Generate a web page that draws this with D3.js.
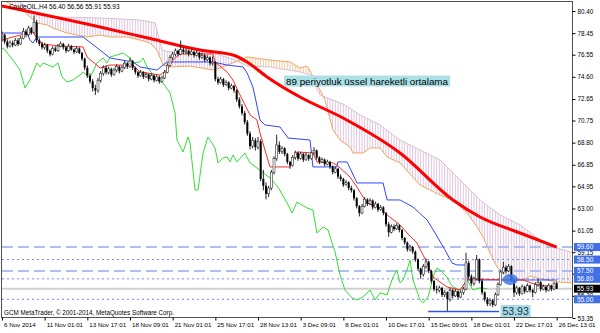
<!DOCTYPE html>
<html><head><meta charset="utf-8">
<script src="https://cdn.jsdelivr.net/npm/d3@7"></script>
<style>
html,body{margin:0;padding:0;background:#fff;}
svg{display:block;font-family:"Liberation Sans",Arial,sans-serif;}
</style></head><body>
<svg id="c" width="600" height="333"></svg>
<script>
// ---------- DATA ----------
const symbol = "CrudeOIL,H4";
const lastOHLC = ["56.40","56.56","55.91","55.93"];
const opens = [78.1,78.3,77.7,77.3,77.6,77.4,77.8,77.5,78.0,78.6,
78.3,78.9,78.5,79.4,77.8,77.5,77.2,77.4,76.9,76.6,
77.1,76.9,77.3,77.5,77.2,76.9,77.3,77.0,76.8,77.1,
76.7,76.2,75.4,74.7,74.2,73.6,73.4,74.3,74.9,75.4,
75.0,75.3,74.8,75.2,75.5,75.1,75.4,75.8,75.5,76.0,
75.4,75.0,74.7,75.0,74.6,74.8,74.4,74.7,74.3,74.6,
74.2,74.5,75.0,75.6,76.3,76.6,76.9,76.6,77.0,76.8,
76.9,76.6,76.8,76.5,76.7,76.3,76.5,76.1,76.3,75.8,
75.9,74.4,74.1,74.4,73.9,74.1,73.6,73.8,73.4,72.6,
72.0,71.4,70.6,69.6,68.5,69.0,68.4,68.9,65.6,65.0,
64.3,64.8,66.2,67.4,68.6,68.0,68.3,67.8,67.1,66.8,
67.5,67.9,67.4,67.8,67.3,67.7,67.4,67.9,68.1,67.5,
67.1,67.3,66.9,67.1,66.7,66.2,66.5,65.8,65.6,65.1,
65.3,64.8,64.6,63.9,63.2,62.6,63.2,63.8,63.4,63.7,
63.1,63.4,62.9,63.1,62.6,61.6,60.9,61.4,61.2,61.5,
61.1,60.4,60.0,59.4,59.6,59.2,58.5,57.7,57.2,57.9,
58.3,57.5,56.6,55.9,55.8,56.0,55.4,55.6,55.0,55.8,
55.3,55.7,55.2,55.6,55.9,58.2,57.0,56.4,56.8,58.5,
56.6,55.6,55.0,54.6,54.9,54.5,55.4,56.3,57.4,57.8,
57.5,57.9,56.7,55.6,56.0,55.5,56.1,55.7,56.2,55.8,
55.6,56.3,56.5,55.9,56.1,55.8,56.2,55.9,56.40];
const highs = [78.6,78.4,77.9,77.8,77.8,78.0,78.0,78.2,78.9,78.8,
79.1,79.0,80.0,79.6,78.0,77.7,77.6,77.5,77.0,77.3,
77.3,77.5,77.7,77.6,77.3,77.5,77.4,77.1,77.3,77.2,
76.8,76.3,75.6,74.9,74.4,73.9,74.5,75.1,75.6,75.6,
75.5,75.4,75.4,75.7,75.6,75.6,76.0,75.9,76.3,76.1,
75.5,75.1,75.2,75.1,75.0,74.9,74.9,74.8,74.8,74.7,
74.7,75.2,75.8,76.5,76.8,77.1,77.0,77.8,77.2,77.1,
77.0,77.0,76.9,76.9,76.8,76.7,76.6,76.5,76.4,76.4,
76.0,74.6,74.6,74.5,74.3,74.2,74.0,73.9,73.5,72.8,
72.2,71.6,70.8,69.8,69.3,69.2,69.3,69.1,66.4,65.3,
65.0,66.4,67.6,69.5,68.9,68.5,68.4,67.9,67.2,67.7,
68.1,68.0,68.0,67.9,67.9,67.8,68.0,68.4,68.2,67.6,
67.5,67.4,67.3,67.2,66.8,66.7,66.6,66.0,65.7,65.5,
65.4,65.0,64.7,64.0,63.3,63.4,64.0,63.9,63.9,63.8,
63.6,63.5,63.3,63.2,62.7,61.8,61.6,61.6,61.7,61.6,
61.2,60.5,60.1,59.8,59.7,59.3,58.6,57.8,58.1,58.6,
58.4,57.6,56.7,56.2,56.2,56.1,55.8,55.7,56.0,55.9,
55.9,55.8,55.8,56.1,59.1,58.4,57.2,57.0,58.9,58.6,
56.8,55.7,55.2,55.1,55.0,55.6,56.5,57.6,58.3,58.0,
58.1,58.0,56.8,56.2,56.1,56.3,56.2,56.4,56.3,55.9,
56.5,56.8,56.6,56.3,56.2,56.4,56.3,56.5,56.56];
const lows = [77.7,77.5,77.1,77.2,77.2,77.3,77.3,77.4,77.9,78.1,
78.2,78.3,78.4,77.6,77.3,77.0,77.0,76.7,76.4,76.5,
76.8,76.8,77.2,77.0,76.7,76.8,76.9,76.6,76.7,76.6,
76.0,75.2,74.5,74.0,73.3,73.0,73.2,74.1,74.7,74.8,
74.8,74.6,74.7,75.0,74.9,75.0,75.3,75.3,75.4,75.2,
74.8,74.5,74.6,74.4,74.5,74.2,74.3,74.1,74.2,74.0,
74.1,74.4,74.9,75.5,76.1,76.4,76.4,76.5,76.6,76.6,
76.4,76.5,76.3,76.4,76.1,76.2,75.9,76.0,75.6,75.6,
74.2,73.9,74.0,73.7,73.8,73.4,73.5,73.2,72.4,71.8,
71.2,70.4,69.4,68.2,68.3,68.1,68.2,65.4,64.6,63.8,
64.0,64.6,66.0,67.2,67.8,67.8,67.6,66.9,66.5,66.7,
67.3,67.2,67.3,67.1,67.2,67.2,67.3,67.7,67.3,66.9,
67.0,66.7,66.8,66.5,66.0,66.1,65.6,65.4,64.9,65.0,
64.6,64.4,63.7,63.0,62.3,62.5,63.1,63.2,63.3,62.9,
63.0,62.7,62.8,62.4,61.4,60.5,60.8,61.0,61.1,60.9,
60.2,59.8,59.2,59.2,59.0,58.3,57.5,56.8,57.0,57.7,
57.3,56.4,55.7,55.5,55.6,55.2,55.2,53.93,54.8,55.1,
55.2,55.0,55.1,55.4,55.8,56.8,56.2,56.2,56.7,56.4,
55.4,54.8,54.4,54.4,54.3,54.4,55.3,56.2,57.2,57.3,
57.4,56.5,55.2,55.4,55.3,55.4,55.5,55.6,55.6,55.2,
55.5,56.1,55.7,55.8,55.6,55.7,55.7,55.8,55.91];
const closes = [78.3,77.7,77.3,77.6,77.4,77.8,77.5,78.0,78.6,78.3,
78.9,78.5,79.4,77.8,77.5,77.2,77.4,76.9,76.6,77.1,
76.9,77.3,77.5,77.2,76.9,77.3,77.0,76.8,77.1,76.7,
76.2,75.4,74.7,74.2,73.6,73.4,74.3,74.9,75.4,75.0,
75.3,74.8,75.2,75.5,75.1,75.4,75.8,75.5,76.0,75.4,
75.0,74.7,75.0,74.6,74.8,74.4,74.7,74.3,74.6,74.2,
74.5,75.0,75.6,76.3,76.6,76.9,76.6,77.0,76.8,76.9,
76.6,76.8,76.5,76.7,76.3,76.5,76.1,76.3,75.8,75.9,
74.4,74.1,74.4,73.9,74.1,73.6,73.8,73.4,72.6,72.0,
71.4,70.6,69.6,68.5,69.0,68.4,68.9,65.6,65.0,64.3,
64.8,66.2,67.4,68.6,68.0,68.3,67.8,67.1,66.8,67.5,
67.9,67.4,67.8,67.3,67.7,67.4,67.9,68.1,67.5,67.1,
67.3,66.9,67.1,66.7,66.2,66.5,65.8,65.6,65.1,65.3,
64.8,64.6,63.9,63.2,62.6,63.2,63.8,63.4,63.7,63.1,
63.4,62.9,63.1,62.6,61.6,60.9,61.4,61.2,61.5,61.1,
60.4,60.0,59.4,59.6,59.2,58.5,57.7,57.2,57.9,58.3,
57.5,56.6,55.9,55.8,56.0,55.4,55.6,55.0,55.8,55.3,
55.7,55.2,55.6,55.9,58.2,57.0,56.4,56.8,58.5,56.6,
55.6,55.0,54.6,54.9,54.5,55.4,56.3,57.4,57.8,57.5,
57.9,56.7,55.6,56.0,55.5,56.1,55.7,56.2,55.8,55.6,
56.3,56.5,55.9,56.1,55.8,56.2,55.9,56.40,55.93];

// indicator lines: [bar index, price]
const ema89 = [[0,80.84],[36.75,78.99],[55.5,77.97],[74.25,76.96],[86.6,76.52],[91.9,75.91],[99.4,74.59],[111.75,72.82],[127.9,70.97],[149.25,67.89],[169.1,63.75],[179.25,62.25],[194.25,60.84],[208,59.60]];
const tenkan = [[0,77.84],[4.1,78.11],[11.6,78.55],[13.5,77.84],[15.4,77.49],[21.75,77.32],[30.4,77.23],[31.9,76.35],[36.75,75.38],[40.5,75.64],[49.1,75.64],[51.75,75.03],[59.25,74.76],[61.9,75.20],[64.1,76.08],[66.75,76.61],[79.1,76.61],[79.9,75.91],[84.4,75.03],[86.6,74.32],[89.25,73.0],[93,71.24],[95.6,70.80],[96.75,69.65],[98.6,68.15],[100.5,66.66],[108,66.66],[110.6,67.98],[116.6,67.89],[118.1,67.10],[124.1,67.01],[125.6,66.83],[130.5,65.77],[133.1,64.89],[135.4,64.01],[136.9,63.48],[141.75,63.04],[144.4,62.43],[149.25,61.55],[151.9,60.84],[155.6,59.96],[159.4,58.20],[161.6,56.96],[166.9,56.08],[171.75,55.82],[174.4,56.70],[176.6,56.79],[189.4,56.70],[195.4,56.70],[200.6,56.26],[208,56.08]];
const kijun = [[0,78.46],[9.4,78.46],[10.5,77.84],[11.6,77.58],[13.1,78.11],[30.4,78.11],[36.75,76.96],[40.5,76.26],[49.1,75.91],[51.75,75.47],[58.1,75.20],[61.9,75.91],[79.1,75.91],[84.4,75.64],[90.4,75.47],[91.9,74.94],[94.1,73.70],[96.75,70.80],[98.6,70.36],[104.25,70.18],[107.25,69.21],[115.5,69.03],[116.6,66.66],[125.6,66.66],[125.9,67.10],[129.4,67.10],[133.1,65.25],[142.9,65.25],[144.4,63.75],[149.25,63.75],[154.1,63.13],[159.4,61.99],[162.4,60.84],[166.1,59.35],[168.75,58.20],[170.6,58.02],[174.4,58.02],[174.75,56.70],[208,56.70]];
const chikou = [[0,77.14],[1.1,76.96],[4.1,76.08],[6.75,75.20],[8.6,73.62],[10.5,74.32],[11.6,74.94],[13.1,75.82],[14.25,75.47],[15.4,75.82],[19.1,75.47],[21,75.82],[22.5,74.59],[24.4,74.14],[26.6,74.32],[29.25,74.76],[30.4,75.03],[33,74.50],[35.6,75.82],[37.9,76.26],[39.4,75.82],[40.5,76.35],[43.1,76.52],[45.4,76.70],[48,76.26],[49.1,75.82],[51.75,75.91],[52.9,76.26],[54.4,75.47],[58.1,74.32],[60.4,74.06],[63,73.18],[64.9,71.41],[65.6,69.03],[67.9,67.98],[69.75,69.30],[70.5,68.77],[72.4,64.63],[73.5,64.63],[75.4,67.89],[77.25,69.30],[79.9,68.33],[81,67.01],[82.9,67.45],[84.4,67.54],[85.5,67.10],[86.6,67.71],[88.1,67.10],[91.1,67.89],[93,67.01],[95.6,66.57],[97.5,66.21],[100.5,65.69],[103.5,64.89],[106.9,63.48],[108.75,62.60],[110.6,63.57],[114.4,63.04],[116.6,62.87],[118.1,60.84],[120.4,61.37],[122.25,61.11],[123.75,59.96],[124.9,59.17],[126.75,57.14],[128.6,55.82],[131.25,55.12],[133.1,54.94],[135.4,55.21],[138,55.82],[139.9,54.94],[141.75,55.56],[144.4,55.38],[146.6,56.96],[148.1,57.58],[149.25,56.44],[150.4,56.70],[152.25,57.85],[153,58.46],[154.1,56.70],[156.75,54.94],[157.9,54.68],[159.75,55.21],[160.5,55.82],[161.6,56.96],[163.1,57.76],[164.25,57.58],[166.9,56.96],[168,56.44],[169.1,56.08],[171.75,55.82],[174.4,56.70],[176.6,55.82],[179.25,56.00],[182,55.93]];
const senkouA = [[0,81.37],[6.75,80.66],[13.1,79.34],[16.9,79.17],[19.1,78.90],[24.4,78.46],[31.9,78.11],[36.75,78.29],[40.5,78.11],[46.9,78.11],[51.75,77.84],[55.5,77.58],[58.1,76.96],[60.4,75.64],[63,75.47],[70.5,75.55],[79.1,75.20],[81.75,75.38],[87.4,75.91],[91.9,76.35],[100.5,76.08],[108,75.91],[111.75,75.38],[114.4,75.55],[117.4,74.32],[121.1,72.56],[124.1,69.92],[126.75,69.03],[130.5,68.42],[131.6,67.89],[135.4,67.89],[138,68.33],[141.75,68.33],[144.4,67.54],[149.25,67.01],[156.75,65.07],[164.25,64.19],[169.1,63.75],[174.4,62.60],[178.1,61.37],[180.4,60.49],[183,59.08],[185.6,57.85],[187.9,57.32],[191.6,56.88],[195.4,56.70],[198,57.05],[200.6,56.88],[208,56.53],[214.5,56.44],[222,56.44]];
const senkouB = [[0,82.07],[6.75,81.19],[13.1,80.05],[21.75,79.87],[36.75,79.78],[51.75,79.61],[57.4,79.34],[60,76.96],[63,76.79],[79.1,76.70],[87.4,76.08],[91.9,75.55],[100.5,75.47],[111.75,75.03],[115.5,74.76],[119.25,73.00],[124.1,72.56],[128.6,72.12],[134.25,71.24],[141.75,70.36],[149.25,69.03],[156.75,68.15],[164.25,67.27],[171.75,65.51],[179.25,63.75],[186.75,62.43],[194.25,61.55],[201.75,60.22],[208,59.52],[214.5,59.08],[222,59.0]];

// axis ticks
const priceTicks = [80.40,78.45,76.55,74.60,72.65,70.75,68.80,66.85,64.95,63.00,61.05,59.15,57.25,55.30,53.35];
const hiddenTicks = [57.25];
const dateBars = [0,16,32,48,64,80,96,112,128,144,160,176,192,208];
const dateLabels = ["6 Nov 2014","11 Nov 01:01","13 Nov 17:01","18 Nov 09:01","21 Nov 01:01","25 Nov 17:01","28 Nov 13:01","3 Dec 09:01","8 Dec 01:01","10 Dec 17:01","15 Dec 09:01","18 Dec 01:01","22 Dec 17:01","26 Dec 13:01"];

// horizontal levels
const dashedLevels = [59.60,57.50];
const dottedLevels = [58.50,56.80,55.00];
const bidPrice = 55.93;
const blueLabels = [59.60,58.50,57.50,56.80,55.00];
const lowPrice = 53.93;
const lowLineBars = [159.8,186.4];
const highlight = [190.6,56.75];
const emaNote = "89 periyotluk üssel hareketli ortalama";
const copyright = "GCM MetaTrader, © 2001-2014, MetaQuotes Software Corp.";

// ---------- DRAW ----------
const svg = d3.select("#c");
const x = d3.scaleLinear().domain([0,208]).range([2,556.7]);
const y = d3.scaleLinear().domain([53.35,80.40]).range([318,11]);
const PL=2, PR=572, PT=2, PB=317;
const step = x(1)-x(0);
const fmt = d3.format(".2f");

svg.append("rect").attr("width",600).attr("height",333).attr("fill","#fff");
const defs = svg.append("defs");
defs.append("clipPath").attr("id","plot").append("rect").attr("x",PL).attr("y",PT).attr("width",PR-PL).attr("height",PB-PT);
function hatch(id,color){
  const p = defs.append("pattern").attr("id",id).attr("patternUnits","userSpaceOnUse")
    .attr("width",step).attr("height",20).attr("x",x(0)-0.5);
  p.append("rect").attr("x",0).attr("y",0).attr("width",1).attr("height",20).attr("fill",color);
}
hatch("hB","#dcc3dc");
hatch("hA","#f6c8a0");
const aboveA = d3.area().x(d=>x(d[0])).y0(-100).y1(d=>y(d[1]));
const belowA = d3.area().x(d=>x(d[0])).y0(500).y1(d=>y(d[1]));
defs.append("clipPath").attr("id","cA").append("path").attr("d",aboveA(senkouA));
defs.append("clipPath").attr("id","cBel").append("path").attr("d",belowA(senkouA));

const line = d3.line().x(d=>x(d[0])).y(d=>y(d[1]));
const plot = svg.append("g").attr("clip-path","url(#plot)");

// cloud
const poly = senkouA.concat(senkouB.slice().reverse());
const polyPath = line(poly)+"Z";
plot.append("g").attr("clip-path","url(#cA)").append("path").attr("d",polyPath).attr("fill","url(#hB)").attr("fill-rule","evenodd");
plot.append("g").attr("clip-path","url(#cBel)").append("path").attr("d",polyPath).attr("fill","url(#hA)").attr("fill-rule","evenodd");
plot.append("path").attr("d",line(senkouB)).attr("fill","none").attr("stroke","#d8bfd8").attr("stroke-width",1);
plot.append("path").attr("d",line(senkouA)).attr("fill","none").attr("stroke","#f4a460").attr("stroke-width",1);

// levels
plot.selectAll(".lvd").data(dashedLevels).join("line").attr("x1",PL).attr("x2",PR)
  .attr("y1",d=>y(d)).attr("y2",d=>y(d)).attr("stroke","#afc0f0").attr("stroke-width",2).attr("stroke-dasharray","11,5");
plot.selectAll(".lvo").data(dottedLevels).join("line").attr("x1",PL).attr("x2",PR)
  .attr("y1",d=>y(d)).attr("y2",d=>y(d)).attr("stroke","#6d8ef0").attr("stroke-width",1).attr("stroke-dasharray","2,3");
plot.append("line").attr("x1",PL).attr("x2",PR).attr("y1",y(bidPrice)).attr("y2",y(bidPrice)).attr("stroke","#d0d0d0").attr("stroke-width",2);

// header text
svg.append("text").attr("x",9).attr("y",9).attr("font-size",6.5).attr("fill","#000")
  .text(symbol+"  "+lastOHLC.join(" "));

// EMA
plot.append("path").attr("d",d3.line().x(d=>x(d[0])).y(d=>y(d[1])).curve(d3.curveMonotoneX)(ema89))
  .attr("fill","none").attr("stroke","#ff0000").attr("stroke-width",3);
// ichimoku lines
plot.append("path").attr("d",line(chikou)).attr("fill","none").attr("stroke","#33e033").attr("stroke-width",1);
plot.append("path").attr("d",line(kijun)).attr("fill","none").attr("stroke","#3344ff").attr("stroke-width",1);
plot.append("path").attr("d",line(tenkan)).attr("fill","none").attr("stroke","#ff2a2a").attr("stroke-width",1);

// candles
const bars = d3.range(opens.length);
const cg = plot.append("g");
cg.selectAll(".w").data(bars).join("line")
  .attr("x1",i=>x(i)).attr("x2",i=>x(i)).attr("y1",i=>y(highs[i])).attr("y2",i=>y(lows[i]))
  .attr("stroke","#222").attr("stroke-width",1);
cg.selectAll(".b").data(bars).join("rect")
  .attr("x",i=>x(i)-1).attr("width",2)
  .attr("y",i=>y(Math.max(opens[i],closes[i])))
  .attr("height",i=>Math.max(0.8,Math.abs(y(opens[i])-y(closes[i]))))
  .attr("fill",i=>closes[i]>=opens[i]?"#fff":"#000")
  .attr("stroke",i=>closes[i]>=opens[i]?"#333":"none").attr("stroke-width",0.6);

// annotations
plot.append("line").attr("x1",x(lowLineBars[0])).attr("x2",x(lowLineBars[1]))
  .attr("y1",y(lowPrice)).attr("y2",y(lowPrice)).attr("stroke","#2a5bd7").attr("stroke-width",1.5);
plot.append("ellipse").attr("cx",x(highlight[0])).attr("cy",y(highlight[1])).attr("rx",7.5).attr("ry",5.5)
  .attr("fill","#3d78e8").attr("opacity",0.85);
const lowLbl = plot.append("g");
lowLbl.append("rect").attr("x",x(lowLineBars[1])+1.5).attr("y",y(lowPrice)-6.5).attr("width",30).attr("height",13).attr("fill","#a8dbe3");
lowLbl.append("text").attr("x",x(lowLineBars[1])+16.5).attr("y",y(lowPrice)+4).attr("text-anchor","middle")
  .attr("font-size",10.5).attr("fill","#1b3550").text(fmt(lowPrice));
const noteG = svg.append("g");
noteG.append("rect").attr("x",284).attr("y",75.5).attr("width",166).attr("height",11).attr("fill","#ace0e8");
noteG.append("text").attr("x",286).attr("y",84.5).attr("font-size",8.6).attr("fill","#000")
  .attr("textLength",162).attr("lengthAdjust","spacingAndGlyphs").text(emaNote);

// copyright
svg.append("text").attr("x",4).attr("y",314.5).attr("font-size",6.3).attr("fill","#000").text(copyright);

// frame
svg.append("rect").attr("x",PL-0.5).attr("y",PT-0.5).attr("width",PR-PL+1).attr("height",PB-PT+1)
  .attr("fill","none").attr("stroke","#505050").attr("stroke-width",1);

// axes
const yAxis = d3.axisRight(y).tickValues(priceTicks).tickFormat(d=>hiddenTicks.includes(d)?"":fmt(d)).tickSize(3).tickPadding(2);
const ya = svg.append("g").attr("transform",`translate(${PR+0.5},0)`).call(yAxis);
ya.select(".domain").remove();
ya.selectAll("text").attr("font-size",6.3).attr("fill","#000").attr("font-family","Liberation Sans, Arial, sans-serif");
ya.selectAll("line").attr("stroke","#000");
const xAxis = d3.axisBottom(x).tickValues(dateBars).tickFormat((d,i)=>dateLabels[i]).tickSize(3).tickPadding(2);
const xa = svg.append("g").attr("transform",`translate(0,${PB+0.5})`).call(xAxis);
xa.select(".domain").remove();
xa.selectAll("text").attr("font-size",6.2).attr("fill","#000").attr("text-anchor","start").attr("dx",1.5)
  .attr("font-family","Liberation Sans, Arial, sans-serif");
xa.selectAll("line").attr("stroke","#000");

// right price labels
const rl = svg.append("g");
const allLbl = blueLabels.map(v=>({v,bg:"#3f6fe6"})).concat([{v:bidPrice,bg:"#000"}]);
rl.selectAll("rect").data(allLbl).join("rect").attr("x",PR+2).attr("y",d=>y(d.v)-4).attr("width",26).attr("height",8).attr("fill",d=>d.bg);
rl.selectAll("text").data(allLbl).join("text").attr("x",PR+5).attr("y",d=>y(d.v)+2.4).attr("font-size",6.5)
  .attr("fill","#fff").text(d=>fmt(d.v));
</script>
</body></html>
